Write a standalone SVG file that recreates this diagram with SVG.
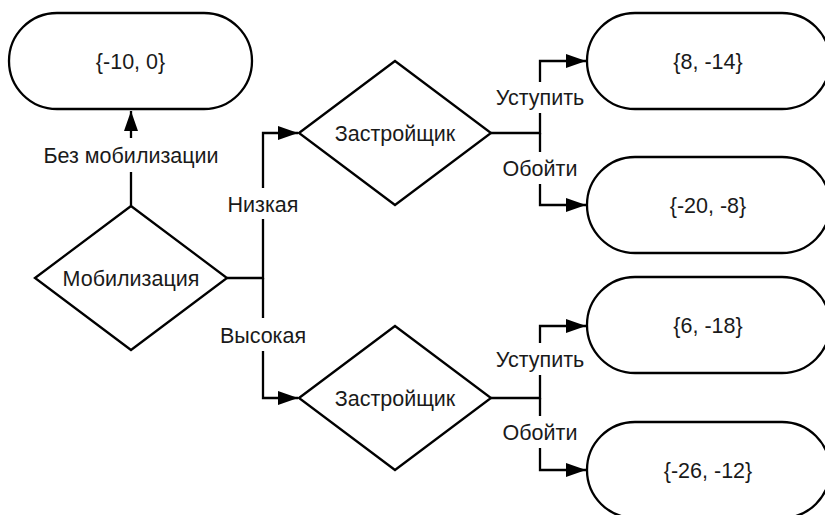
<svg xmlns="http://www.w3.org/2000/svg" width="825" height="515" viewBox="0 0 825 515">
<defs>
<style>
.shape{fill:#fff;stroke:#000;stroke-width:2.3}
.conn{fill:none;stroke:#000;stroke-width:2.3}
text{font-family:"Liberation Sans",Arial,sans-serif;font-size:21.5px;fill:#1a1a1a;text-anchor:middle}
.lblbg{fill:#fff}
</style>
<marker id="arr" markerUnits="userSpaceOnUse" markerWidth="22" markerHeight="16" refX="20" refY="7" orient="auto">
<path d="M0,0 L20,7 L0,14 Z" fill="#000"/>
</marker>
</defs>
<rect width="825" height="515" fill="#fff"/>
<g id="connectors">
<path class="conn" d="M131,206 V111" marker-end="url(#arr)"/>
<path class="conn" d="M227,278 H263 V133 H298" marker-end="url(#arr)"/>
<path class="conn" d="M263,278 V398 H298" marker-end="url(#arr)"/>
<path class="conn" d="M491,133 H540 V61 H586" marker-end="url(#arr)"/>
<path class="conn" d="M540,133 V205 H586" marker-end="url(#arr)"/>
<path class="conn" d="M491,398 H540 V326 H586" marker-end="url(#arr)"/>
<path class="conn" d="M540,398 V470 H586" marker-end="url(#arr)"/>
<rect class="lblbg" x="121" y="138" width="20" height="34"/>
<text x="131" y="162.5">Без мобилизации</text>
<rect class="lblbg" x="253" y="188" width="20" height="31"/>
<text x="263" y="212">Низкая</text>
<rect class="lblbg" x="253" y="318" width="20" height="33"/>
<text x="263" y="342.5">Высокая</text>
<rect class="lblbg" x="530" y="82" width="20" height="31"/>
<text x="540" y="104.5">Уступить</text>
<rect class="lblbg" x="530" y="152" width="20" height="32"/>
<text x="540" y="175.5">Обойти</text>
<rect class="lblbg" x="530" y="343" width="20" height="32"/>
<text x="540" y="366.5">Уступить</text>
<rect class="lblbg" x="530" y="416" width="20" height="32"/>
<text x="540" y="439.5">Обойти</text>
</g>
<g id="t0"><rect class="shape" x="9" y="13" width="243" height="96" rx="48"/><text x="130.5" y="68.5">{-10, 0}</text></g>
<g id="d0"><polygon class="shape" points="35,278 131,206 227,278 131,350"/><text x="131" y="285.5">Мобилизация</text></g>
<g id="d1"><polygon class="shape" points="299,133 395,61 491,133 395,205"/><text x="395" y="140.5">Застройщик</text></g>
<g id="d2"><polygon class="shape" points="299,398 395,326 491,398 395,470"/><text x="395" y="405.5">Застройщик</text></g>
<g id="t1"><rect class="shape" x="587" y="13" width="243" height="96" rx="48"/><text x="708" y="68.5">{8, -14}</text></g>
<g id="t2"><rect class="shape" x="587" y="157" width="243" height="96" rx="48"/><text x="708" y="212.5">{-20, -8}</text></g>
<g id="t3"><rect class="shape" x="587" y="277" width="243" height="96" rx="48"/><text x="708" y="332.5">{6, -18}</text></g>
<g id="t4"><rect class="shape" x="587" y="422" width="243" height="96" rx="48"/><text x="708" y="477.5">{-26, -12}</text></g>
</svg>
